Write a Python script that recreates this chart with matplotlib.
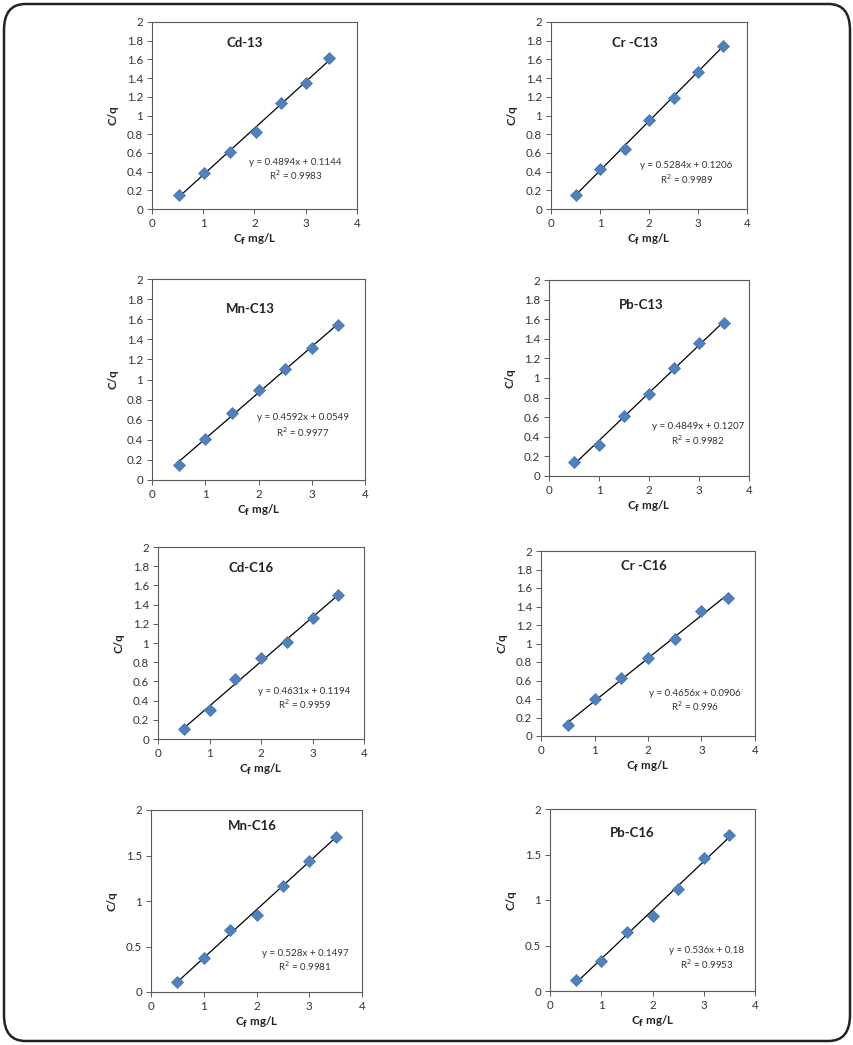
import matplotlib.pyplot as plt
from matplotlib.patches import FancyBboxPatch
import numpy as np

plt.rcParams['font.family'] = ['Lato', 'DejaVu Sans']

# data
titles = ['Cd-13', 'Cr -C13', 'Mn-C13', 'Pb-C13', 'Cd-C16', 'Cr -C16', 'Mn-C16', 'Pb-C16']
equations = ['y = 0.4894x + 0.1144', 'y = 0.5284x + 0.1206', 'y = 0.4592x + 0.0549',
             'y = 0.4849x + 0.1207', 'y = 0.4631x + 0.1194', 'y = 0.4656x + 0.0906',
             'y = 0.528x + 0.1497', 'y = 0.536x + 0.18']
r2_values = ['0.9983', '0.9989', '0.9977', '0.9982', '0.9959', '0.996', '0.9981', '0.9953']

cf_cd13 = [0.52, 1.02, 1.52, 2.02, 2.52, 3.0, 3.45]
cf_std = [0.5, 1.0, 1.5, 2.0, 2.5, 3.0, 3.5]

cq_cd13 = [0.15, 0.39, 0.61, 0.82, 1.13, 1.35, 1.62]
cq_cr13 = [0.155, 0.43, 0.64, 0.95, 1.19, 1.47, 1.745]
cq_mn13 = [0.15, 0.405, 0.67, 0.90, 1.105, 1.31, 1.54]
cq_pb13 = [0.146, 0.32, 0.615, 0.835, 1.10, 1.355, 1.565]
cq_cd16 = [0.107, 0.30, 0.625, 0.845, 1.01, 1.258, 1.50]
cq_cr16 = [0.115, 0.396, 0.627, 0.843, 1.05, 1.355, 1.497]
cq_mn16 = [0.11, 0.375, 0.68, 0.85, 1.165, 1.44, 1.706]
cq_pb16 = [0.12, 0.334, 0.65, 0.822, 1.12, 1.457, 1.714]

xs = [cf_cd13, cf_std, cf_std, cf_std, cf_std, cf_std, cf_std, cf_std]
ys = [cq_cd13, cq_cr13, cq_mn13, cq_pb13, cq_cd16, cq_cr16, cq_mn16, cq_pb16]
ytick_step = [0.2, 0.2, 0.2, 0.2, 0.2, 0.2, 0.5, 0.5]

# layout in pixels: left, right, top, bottom
W, H = 854, 1045
boxes = [(152, 357, 22, 209), (551, 747, 22, 209),
         (152, 365, 279, 480), (549, 749, 280, 476),
         (158, 364, 547, 739), (541, 755, 551, 736),
         (151, 362, 810, 992), (550, 755, 809, 991)]
title_pos = [(0.45, 0.89), (0.43, 0.89), (0.46, 0.85), (0.46, 0.87),
             (0.45, 0.89), (0.48, 0.92), (0.48, 0.91), (0.40, 0.87)]
eq_pos = [(0.70, 0.25), (0.69, 0.23), (0.71, 0.31), (0.745, 0.255),
          (0.71, 0.25), (0.72, 0.232), (0.73, 0.21), (0.765, 0.22)]

blue = '#4F81BD'
axcol = '#5a5a5a'

fig = plt.figure(figsize=(W / 100, H / 100), dpi=100)

frame = FancyBboxPatch((4 / W, 4 / H), (W - 8) / W, (H - 8) / H,
                       boxstyle='round,pad=0,rounding_size=0.025',
                       transform=fig.transFigure, fill=False,
                       edgecolor='#222222', linewidth=1.8)
fig.patches.append(frame)

for i in range(8):
    l, r, t, b = boxes[i]
    ax = fig.add_axes([l / W, 1 - b / H, (r - l) / W, (b - t) / H])
    x = np.array(xs[i])
    y = np.array(ys[i])

    # linear trend line
    k, c = np.polyfit(x, y, 1)
    ax.plot([x[0], x[-1]], [k * x[0] + c, k * x[-1] + c], color='black', lw=0.9, zorder=2)
    ax.plot(x, y, 'D', color=blue, markersize=6.3, markeredgecolor='#4474ae',
            markeredgewidth=0.5, zorder=3)

    ax.set_xlim(0, 4)
    ax.set_ylim(0, 2)
    ax.set_xticks([0, 1, 2, 3, 4])
    yt = np.arange(0, 2.0001, ytick_step[i])
    ax.set_yticks(yt)
    ax.set_yticklabels(['%g' % v for v in yt])
    ax.tick_params(direction='out', length=3.5, width=0.7, color=axcol,
                   labelsize=8.3, labelcolor='#333333', pad=3)
    for s in ax.spines.values():
        s.set_color(axcol)
        s.set_linewidth(0.8)

    ax.text(title_pos[i][0], title_pos[i][1], titles[i], transform=ax.transAxes,
            ha='center', va='center', fontsize=9.5, fontweight='bold', color='#222222')
    ex, ey = eq_pos[i]
    ax.text(ex, ey, equations[i], transform=ax.transAxes, ha='center', va='center',
            fontsize=7, color='#333333')
    ax.text(ex, ey - 0.07, 'R$^2$ = ' + r2_values[i], transform=ax.transAxes,
            ha='center', va='center', fontsize=7, color='#333333')

    ax.set_xlabel('C$_\\mathbf{f}$ mg/L', fontsize=8.3, fontweight='bold',
                  color='#222222', labelpad=2)
    ax.set_ylabel('C/q', fontsize=8.3, fontweight='bold', color='#222222', labelpad=6)

fig.savefig('out.png', dpi=100)
